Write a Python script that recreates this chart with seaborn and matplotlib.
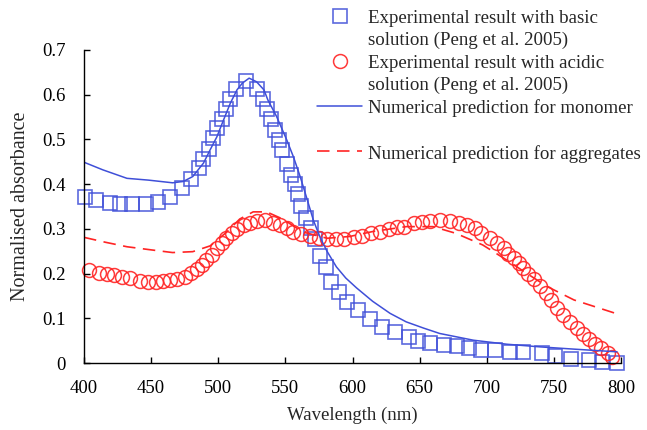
import numpy as np
import seaborn as sns
from matplotlib import pyplot as plt
from matplotlib.lines import Line2D
from matplotlib.legend_handler import HandlerLine2D

# experimental, basic solution (squares)
basic_wl = [401, 409, 419, 427, 436, 446, 455, 464, 473, 480,
            486, 489, 493, 496, 499, 502.5, 506, 509, 513, 521,
            529, 533, 536.5, 539, 542, 545, 547.5, 551, 554.5, 557,
            559.5, 562, 565, 569, 572, 576, 580, 584, 590, 596,
            604, 613, 622, 632, 642, 649, 658, 668, 678, 687,
            696, 706, 717, 727, 741, 751, 763, 776, 786, 797]
basic_abs = [.371, .365, .357, .356, .356, .356, .359, .371, .391, .412,
             .435, .457, .479, .503, .525, .546, .569, .591, .613, .631,
             .613, .590, .569, .546, .521, .499, .476, .444, .420, .400,
             .378, .352, .325, .303, .278, .240, .214, .182, .158, .137,
             .119, .098, .081, .069, .059, .050, .045, .040, .037, .033,
             .029, .028, .025, .024, .022, .016, .009, .007, .003, .000]

# experimental, acidic solution (circles)
acid_wl = [404, 411, 417, 422, 428, 434, 442, 448, 454, 459,
           464, 469, 475, 480, 484, 488, 491, 495, 499, 502.5,
           506, 510, 514, 519, 524, 529, 535, 541, 546, 551,
           556, 562, 568, 575, 581, 588, 594, 601, 607, 614,
           620.5, 627, 633, 638, 646, 652, 658, 665, 672.5, 679,
           685, 691, 696, 702.5, 707.5, 712.5, 716, 720, 724, 727,
           731, 735, 740, 744, 748, 752, 757, 762, 767, 771.5,
           776.5, 781, 785, 790, 793]
acid_abs = [.208, .202, .198, .197, .193, .189, .184, .182, .182, .183,
            .186, .187, .193, .201, .210, .219, .230, .242, .257, .268,
            .279, .290, .300, .309, .314, .318, .320, .314, .309, .301,
            .294, .289, .283, .279, .277, .277, .277, .281, .284, .290,
            .294, .299, .304, .305, .314, .316, .318, .320, .318, .314,
            .309, .301, .290, .279, .268, .257, .244, .234, .223, .212,
            .199, .187, .172, .157, .141, .124, .107, .092, .078, .065,
            .053, .043, .033, .022, .014]

# numerical prediction, monomer
mono_wl = [400, 414, 432, 448, 466, 474, 481, 489, 494, 499,
           504, 509, 514, 518, 523, 528.5, 534, 537, 543.5, 551,
           556, 561, 566, 571, 576, 581, 588, 595, 603, 615,
           628, 640, 653, 665, 690, 715, 740, 765, 797]
mono_abs = [.449, .432, .413, .409, .403, .406, .417, .447, .477, .506,
            .544, .581, .611, .626, .637, .629, .611, .588, .551, .499,
            .461, .417, .368, .318, .280, .250, .215, .190, .168, .138,
            .111, .092, .078, .066, .051, .042, .036, .031, .025]

# numerical prediction, aggregates
agg_wl = [400, 416, 432, 450, 466, 481, 494, 506, 516, 526,
          536, 548, 563, 581, 598, 615, 640, 660, 677, 697,
          715, 730, 745, 765, 797]
agg_abs = [.281, .270, .260, .253, .247, .249, .262, .292, .322, .338,
           .338, .322, .293, .279, .283, .294, .305, .305, .290, .264,
           .230, .200, .171, .141, .110]

x_ticks = [400, 450, 500, 550, 600, 650, 700, 750, 800]
y_ticks = [0, 0.1, 0.2, 0.3, 0.4, 0.5, 0.6, 0.7]
y_labels = ['0', '0.1', '0.2', '0.3', '0.4', '0.5', '0.6', '0.7']

BLUE = '#3f4fd8'
RED = '#ff2424'


class RaisedLine(HandlerLine2D):
    # put the legend key on the first line of a two-line label
    def __init__(self, dy=0.0, **kw):
        super().__init__(**kw)
        self.dy = dy

    def create_artists(self, legend, orig_handle, xdescent, ydescent,
                       width, height, fontsize, trans):
        arts = super().create_artists(legend, orig_handle, xdescent, ydescent,
                                      width, height, fontsize, trans)
        for a in arts:
            a.set_ydata(np.asarray(a.get_ydata()) + self.dy)
        return arts


sns.set_theme(style='ticks')
plt.rcParams['font.family'] = ['Liberation Serif', 'DejaVu Serif']

fig = plt.figure(figsize=(6.47, 4.30), dpi=100)
ax = fig.add_axes([84 / 647, 1 - 363 / 430, (621 - 84) / 647, (363 - 50) / 430])

sns.lineplot(x=basic_wl, y=basic_abs, ax=ax, estimator=None, sort=False,
             linestyle='none', marker='s', markersize=9.5, markerfacecolor='none',
             markeredgecolor=BLUE, markeredgewidth=1.2, alpha=0.85, clip_on=False,
             label='Experimental result with basic\nsolution (Peng et al. 2005)')
sns.lineplot(x=acid_wl, y=acid_abs, ax=ax, estimator=None, sort=False,
             linestyle='none', marker='o', markersize=10, markerfacecolor='none',
             markeredgecolor=RED, markeredgewidth=1.1, alpha=0.9, clip_on=False,
             label='Experimental result with acidic\nsolution (Peng et al. 2005)')
sns.lineplot(x=mono_wl, y=mono_abs, ax=ax, estimator=None, sort=False,
             color=BLUE, linewidth=1.1,
             label='Numerical prediction for monomer\n ')
sns.lineplot(x=agg_wl, y=agg_abs, ax=ax, estimator=None, sort=False,
             color=RED, linewidth=1.2, dashes=False, linestyle=(0, (7.5, 4.5)),
             label='Numerical prediction for aggregates\n ')

ax.set_xlim(400, 800)
ax.set_ylim(0, 0.7)
ax.set_xticks(x_ticks)
ax.set_yticks(y_ticks)
ax.set_yticklabels(y_labels)
ax.tick_params(direction='in', length=4, width=1, colors='black', labelsize=13.5)
ax.tick_params(axis='x', pad=12)
ax.tick_params(axis='y', pad=13)
sns.despine(ax=ax)
for s in ('left', 'bottom'):
    ax.spines[s].set_color('black')
    ax.spines[s].set_linewidth(1)
ax.set_xlabel('Wavelength (nm)', fontsize=13.5, labelpad=7)
ax.set_ylabel('Normalised absorbance', fontsize=14.5, labelpad=9)

fs = 13.6
handles, labels = ax.get_legend_handles_labels()
leg = ax.legend(handles, labels, loc='upper left', bbox_to_anchor=(317 / 647, 1 - 10 / 430),
                bbox_transform=fig.transFigure, frameon=False, borderpad=0, borderaxespad=0,
                handlelength=2.4, handletextpad=0.3, labelspacing=0.31, fontsize=fs,
                handler_map={Line2D: RaisedLine(dy=fs * 0.7)})
for t in leg.get_texts():
    t.set_linespacing(1.35)

fig.savefig('out.png', dpi=100)
